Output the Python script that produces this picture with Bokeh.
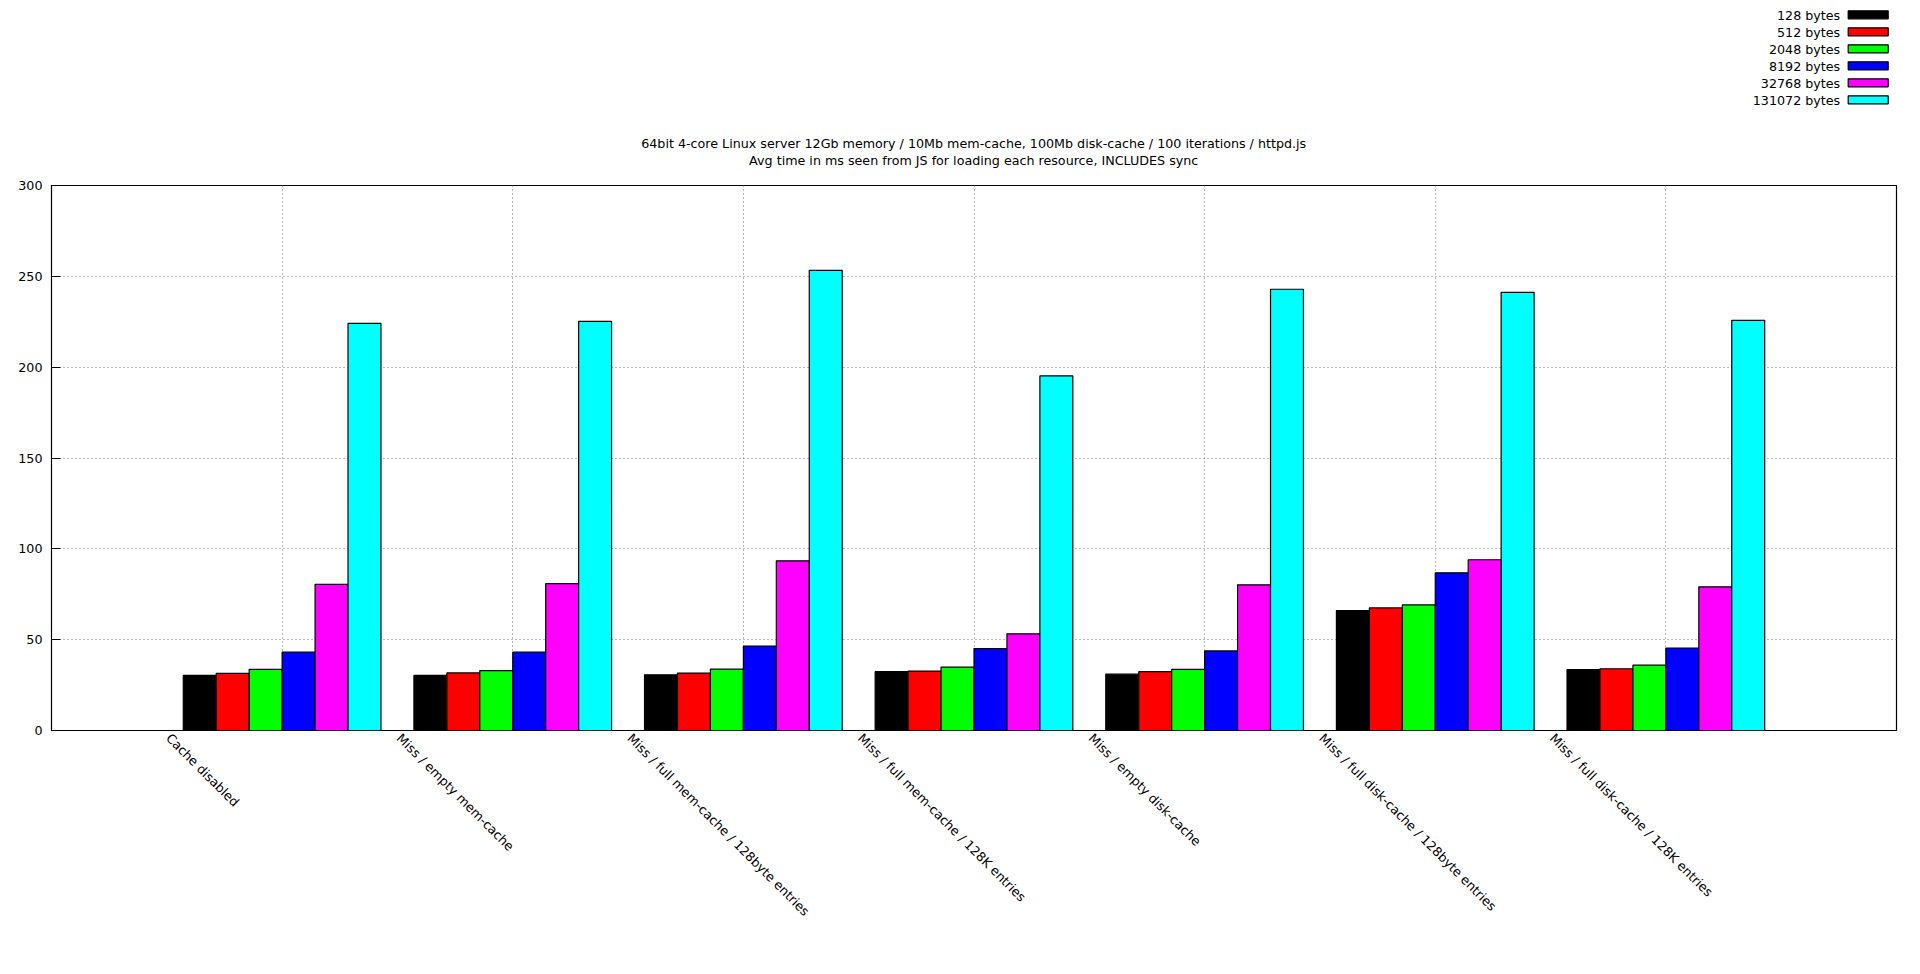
import math
from bokeh.plotting import figure
from bokeh.models import ColumnDataSource, Range1d, FixedTicker
from bokeh.transform import dodge
from bokeh.layouts import column
from bokeh.core.properties import value
from bokeh.embed import file_html
from bokeh.resources import INLINE

# ---------------- data ----------------
categories = [
    "Cache disabled",
    "Miss / empty mem-cache",
    "Miss / full mem-cache / 128byte entries",
    "Miss / full mem-cache / 128K entries",
    "Miss / empty disk-cache",
    "Miss / full disk-cache / 128byte entries",
    "Miss / full disk-cache / 128K entries",
]
series_names = ["128 bytes", "512 bytes", "2048 bytes", "8192 bytes",
                "32768 bytes", "131072 bytes"]
v128 = [30.3, 30.3, 30.7, 32.4, 31.0, 66.0, 33.5]
v512 = [31.5, 31.7, 31.6, 32.7, 32.4, 67.5, 34.0]
v2048 = [33.7, 33.0, 33.8, 34.9, 33.7, 69.1, 36.0]
v8192 = [43.1, 43.1, 46.5, 45.1, 43.8, 86.8, 45.4]
v32768 = [80.4, 80.9, 93.4, 53.2, 80.2, 94.0, 79.1]
v131072 = [224.1, 225.2, 253.3, 195.2, 242.9, 241.2, 225.8]
series_values = [v128, v512, v2048, v8192, v32768, v131072]
colors = ["#000000", "#ff0000", "#00ff00", "#0000ff", "#ff00ff", "#00ffff"]
y_ticks = [0, 50, 100, 150, 200, 250, 300]
title_lines = [
    "64bit 4-core Linux server 12Gb memory / 10Mb mem-cache, 100Mb disk-cache / 100 iterations / httpd.js",
    "Avg time in ms seen from JS for loading each resource, INCLUDES sync",
]

FONT_NAME = "DejaVu Sans"
FONT = value(FONT_NAME)
FSIZE = "12.7px"
W = 1904
BL, BR = 51, 8          # left / right borders of the plot frame
HEAD_H = 173
MAIN_TOP, FRAME_H, MAIN_BOT = 12, 545, 9
MAIN_H = MAIN_TOP + FRAME_H + MAIN_BOT
OVERLAP = 9
FOOT_H = 215

# ---------------- head (title + key) ----------------
head = figure(width=W, height=HEAD_H, x_range=Range1d(BL, W - BR),
              y_range=Range1d(HEAD_H, 0),
              output_backend="svg", toolbar_location=None,
              min_border_left=BL, min_border_right=BR,
              min_border_top=0, min_border_bottom=0)
head.axis.visible = False
head.grid.visible = False
head.outline_line_color = None

n = len(series_names)
key_src = ColumnDataSource(dict(
    label=series_names,
    tx=[1839.7] * n,
    ty=[14.8 + 17 * i for i in range(n)],
    left=[1847.7] * n, right=[1887.7] * n,
    top=[10.3 + 17 * i for i in range(n)],
    bottom=[18.3 + 17 * i for i in range(n)],
    color=colors,
))
head.text(x="tx", y="ty", text="label", source=key_src, text_font=FONT,
          text_font_size=value(FSIZE), text_align="right", text_baseline="middle",
          text_color="#000000")
head.quad(left="left", right="right", top="top", bottom="bottom", source=key_src,
          fill_color="color", line_color="#000000", line_width=1.2)

title_src = ColumnDataSource(dict(x=[973.2, 973.2], y=[143.0, 159.5], t=title_lines))
head.text(x="x", y="y", text="t", source=title_src, text_font=FONT,
          text_font_size=value(FSIZE), text_align="center", text_baseline="middle",
          text_color="#000000")

# ---------------- main chart ----------------
p = figure(width=W, height=MAIN_H, x_range=Range1d(-1, 7), y_range=Range1d(0, 300),
           output_backend="svg", toolbar_location=None, x_axis_location=None,
           min_border_left=BL, min_border_right=BR, min_border_top=MAIN_TOP,
           min_border_bottom=MAIN_BOT)
p.outline_line_color = "#000000"
p.outline_line_width = 1.2

data = dict(idx=list(range(len(categories))), cat=categories)
for name, vals in zip(series_names, series_values):
    data[name] = vals
src = ColumnDataSource(data)

bw = 1.0 / 7.0
for i, (name, col) in enumerate(zip(series_names, colors)):
    p.vbar(x=dodge("idx", (i - 2.5) * bw, range=p.x_range), top=name, bottom=0,
           width=bw, source=src, fill_color=col, line_color="#000000", line_width=1.2)

# y axis
p.yaxis.ticker = FixedTicker(ticks=y_ticks)
p.yaxis.axis_line_color = None
p.yaxis.major_tick_in = 9
p.yaxis.major_tick_out = 0
p.yaxis.major_tick_line_color = "#000000"
p.yaxis.minor_tick_line_color = None
p.yaxis.major_label_standoff = 9
p.yaxis.major_label_text_font = FONT_NAME
p.yaxis.major_label_text_font_size = FSIZE
p.yaxis.major_label_text_color = "#000000"

p.xgrid.ticker = FixedTicker(ticks=list(range(len(categories))))
p.ygrid.ticker = FixedTicker(ticks=y_ticks)
for g in (p.xgrid, p.ygrid):
    g.grid_line_color = "#707070"
    g.grid_line_dash = "1 3"
    g.grid_line_width = 1

# ---------------- foot: rotated category labels ----------------
foot = figure(width=W, height=FOOT_H, x_range=p.x_range, y_range=Range1d(0, FOOT_H),
              output_backend="svg", toolbar_location=None,
              min_border_left=BL, min_border_right=BR,
              min_border_top=0, min_border_bottom=0,
              styles={"margin-top": "-%dpx" % OVERLAP})
foot.axis.visible = False
foot.grid.visible = False
foot.outline_line_color = None
foot.background_fill_color = None
foot.border_fill_color = None
foot.text(x="idx", y=FOOT_H, text="cat", source=src, x_offset=-108.5,
          angle=-math.pi / 4, text_align="left", text_baseline="top",
          text_font=FONT, text_font_size=value(FSIZE), text_color="#000000")

layout = column(head, p, foot, spacing=0)
open("out.html", "w").write(file_html(layout, INLINE))
